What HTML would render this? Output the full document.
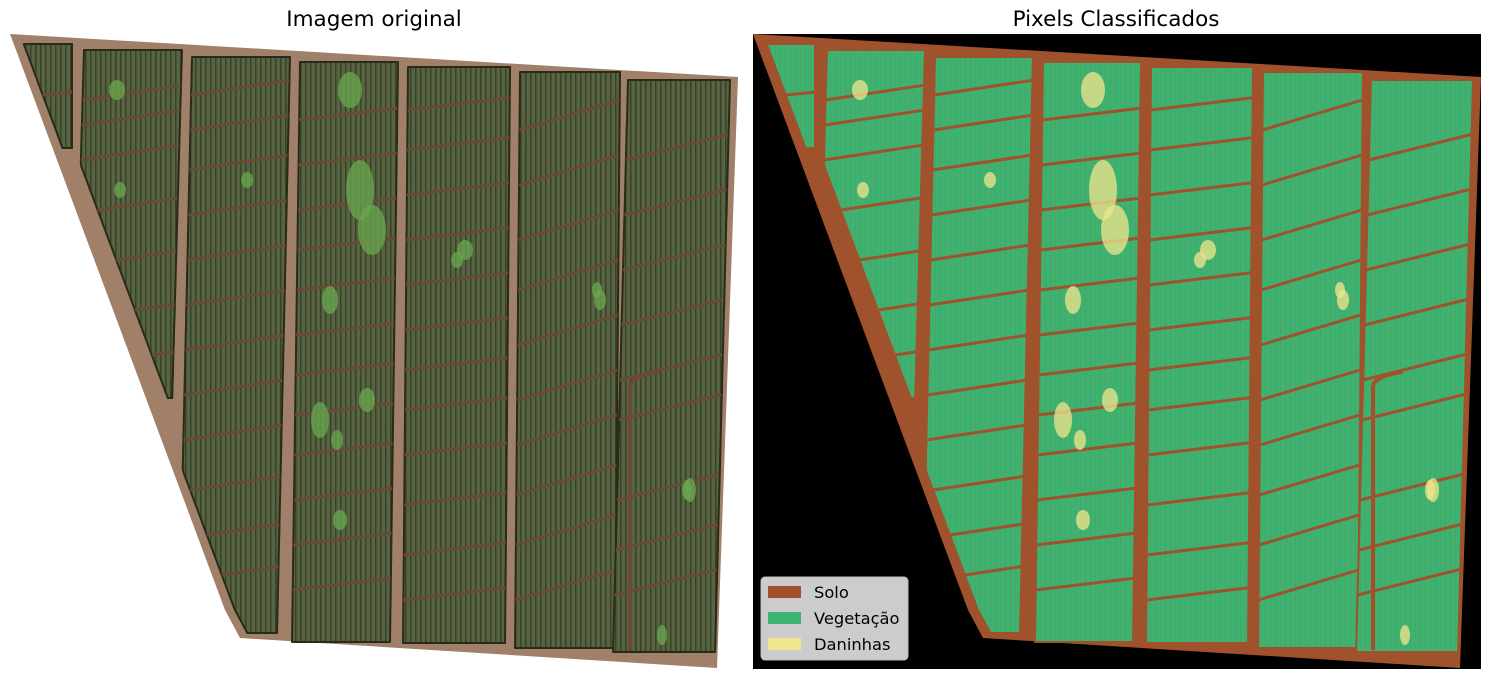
<!DOCTYPE html>
<html><head><meta charset="utf-8"><style>
body{margin:0;background:#fff;width:1489px;height:679px;overflow:hidden;font-family:"DejaVu Sans","Liberation Sans",sans-serif}
svg{display:block}
</style></head><body>
<svg id="fig" width="1489" height="679" viewBox="0 0 1489 679">
<defs>
<pattern id="rowsL" width="5" height="10" patternUnits="userSpaceOnUse"><rect width="5" height="10" fill="#566441"/><rect width="1.5" height="10" fill="#3a4129"/></pattern>
<pattern id="rowsR" width="5" height="10" patternUnits="userSpaceOnUse"><rect width="5" height="10" fill="#3cb371"/><rect width="1" height="10" fill="#5c9a5e" opacity="0.6"/></pattern>
</defs>
<text x="374" y="26" font-size="21.5" text-anchor="middle" fill="#000">Imagem original</text>
<text x="1116" y="26" font-size="21.5" text-anchor="middle" fill="#000">Pixels Classificados</text>
<rect x="753" y="34" width="728" height="635" fill="#000"/>
<g id="leftPanel"></g>
<g id="rightPanel"></g>
<g>
<rect x="761" y="577" width="147" height="83" rx="4" fill="#cccccc" stroke="#bbbbbb"/>
<rect x="768" y="586" width="33" height="12" fill="#a0522d"/>
<text x="814" y="598" font-size="16.3" fill="#000">Solo</text>
<rect x="768" y="612" width="33" height="12" fill="#3cb371"/>
<text x="814" y="624" font-size="16.3" fill="#000">Vegetação</text>
<rect x="768" y="638" width="33" height="12" fill="#f0e68c"/>
<text x="814" y="650" font-size="16.3" fill="#000">Daninhas</text>
</g>
</svg>
<script>
// field columns: left edge, right edge at top; top y, bottom y, bottom right edge
const colLeft   = [22, 84, 192, 300, 408, 520, 628];
const colRight  = [72, 182, 290, 398, 510, 620, 730];
const colTop    = [44, 50, 57, 62, 67, 72, 80];
const colBottom = [148, 405, 634, 642, 646, 650, 655];
const colRightBottom = [72, 172, 277, 390, 505, 615, 715];
const dividerSlope = [-0.1, -0.15, -0.15, -0.12, -0.12, -0.3, -0.25];
const dividers = [
 [95],
 [100,125,160,210,260,310,355],
 [95,130,170,215,260,305,350,395,440,490,535,575],
 [120,165,210,250,290,335,375,415,455,500,545,590],
 [110,150,195,240,285,330,370,410,455,505,555,600],
 [130,185,240,290,345,400,445,495,545,600],
 [160,215,270,325,380,420,500,550,595]
];
// weed / light patches (x, y, rx, ry)
const patchX = [350,360,372,330,320,465,600,690,340,120,117,247,457,597,687,662,367,337];
const patchY = [90,190,230,300,420,250,300,490,520,190,90,180,260,290,490,635,400,440];
const patchRX= [12,14,14,8,9,8,6,6,7,6,8,6,6,5,5,5,8,6];
const patchRY= [18,30,25,14,18,10,10,12,10,8,10,8,8,8,10,10,12,10];

const NS='http://www.w3.org/2000/svg';
function slant(y){ return y<=610 ? 10+(y-34)*0.373 : 225+(y-610)*0.536; }
function mk(tag, attrs, parent){ const e=document.createElementNS(NS,tag); for(const k in attrs) e.setAttribute(k,attrs[k]); parent.appendChild(e); return e; }

function draw(g, off, soil, fill, lineCol, patchCol, outline){
  const outer = mk('polygon',{points:[[10,34],[738,77],[717,668],[240,638],[225,610]].map(p=>(p[0]+off)+','+p[1]).join(' '),fill:soil},g);
  
  
  for(let c=0;c<colLeft.length;c++){
    const top=colTop[c], bot=colBottom[c];
    const lean=(colRightBottom[c]-colRight[c])/(bot-top);
    const Ls=[],Rs=[];
    for(let y=top;y<=bot;y+=4){
      const R=colRight[c]+lean*(y-top);
      let L=colLeft[c]+lean*(y-top);
      if(c===1) L=Math.max(L, slant(y)+22);
      else L=Math.max(L, slant(y)+10);
      if(L>R-4) break;
      Ls.push([L,y]); Rs.push([R,y]);
    }
    const pts=Ls.concat(Rs.reverse()).map(p=>(p[0]+off).toFixed(1)+','+p[1]).join(' ');
    const poly=mk('polygon',{points:pts,fill:fill,stroke:outline,'stroke-width':2,'stroke-linejoin':'round'},g);
    
    
    dividers[c].forEach((dy,i)=>{
      let L=Math.max(colLeft[c]+lean*(dy-top), slant(dy)+(c===1?22:10));
      const R=colRight[c]+lean*(dy-top);
      if(L>=R) return;
      const ln=mk('line',{x1:L+off,y1:dy,x2:R+off,y2:dy+dividerSlope[c]*(R-L),stroke:lineCol,'stroke-width':3},g);
      
      
    });
  }
  const sp=mk('path',{d:`M${630+off},385 L${630+off},650 M${630+off},385 Q${635+off},375 ${660+off},372`,stroke:lineCol,'stroke-width':4,fill:'none'},g);
  
  
  for(let i=0;i<patchX.length;i++){
    const e=mk('ellipse',{cx:patchX[i]+off,cy:patchY[i],rx:patchRX[i],ry:patchRY[i],fill:patchCol,opacity:0.75},g);
    
    
  }
}
draw(document.getElementById('leftPanel'),0,'#a08068','url(#rowsL)','#6a4a32','#6aa84f','#2a2a1a');
draw(document.getElementById('rightPanel'),743,'#a0522d','url(#rowsR)','#a0522d','#f0e68c','#a0522d');
</script>
</body></html>
